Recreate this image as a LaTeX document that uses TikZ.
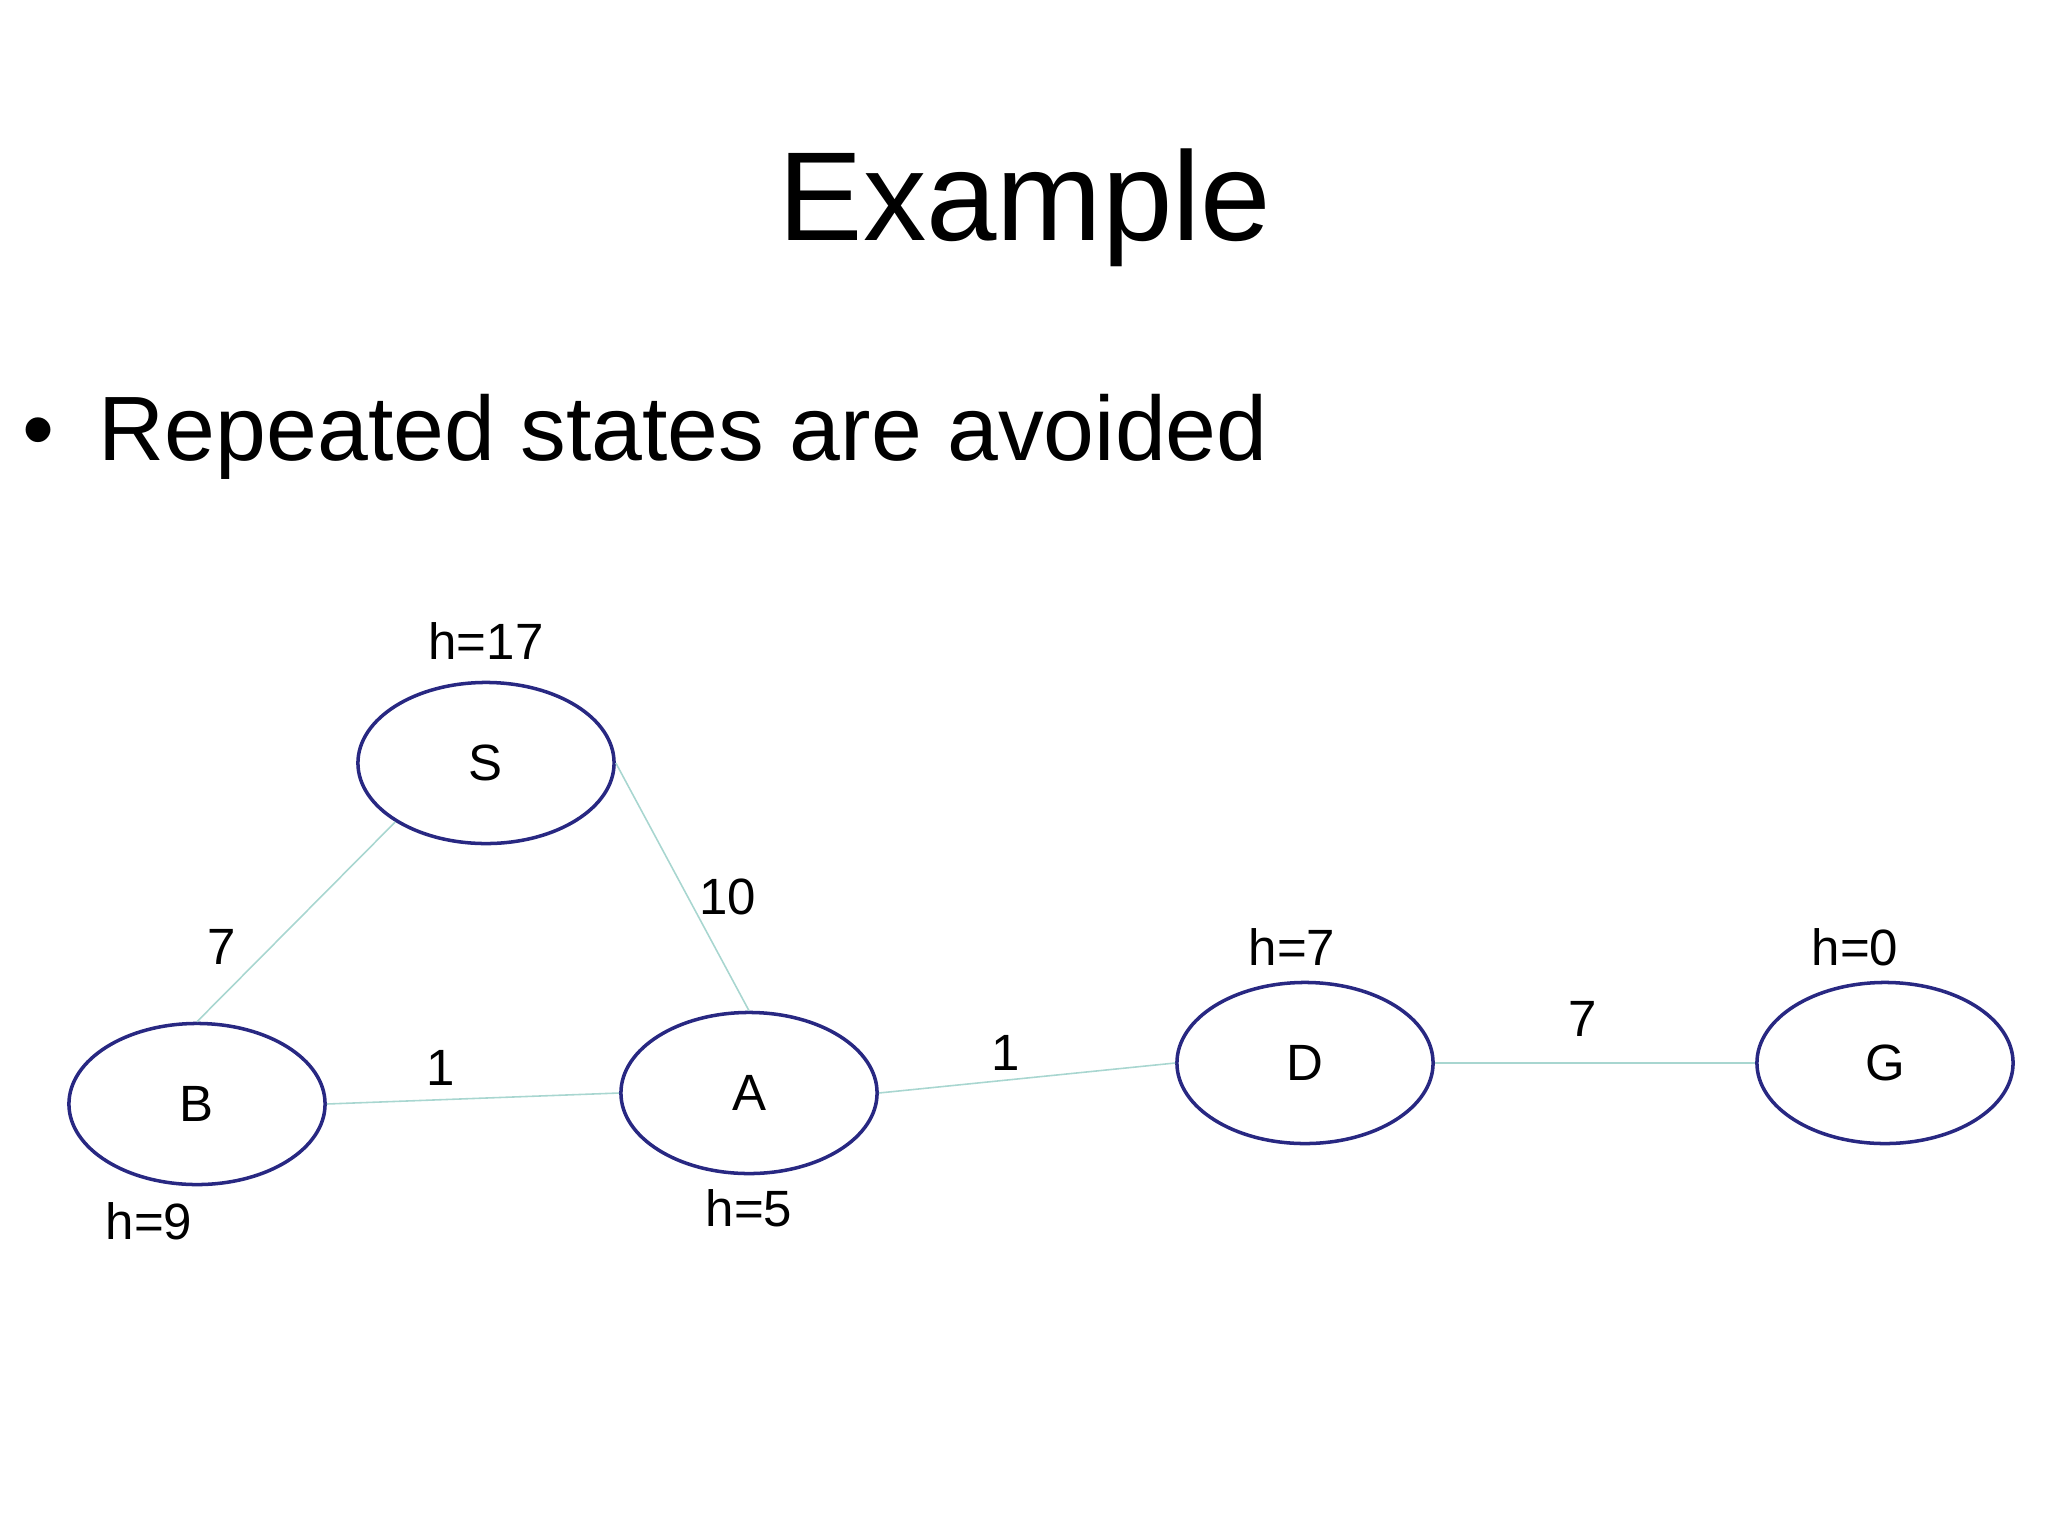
\documentclass[tikz,border=0pt]{standalone}
\usepackage{fontspec}
\setmainfont{Liberation Sans}
\usetikzlibrary{positioning,shapes.geometric}
\definecolor{navy}{RGB}{40,40,130}
\definecolor{edgeteal}{RGB}{168,214,208}

\begin{document}
\begin{tikzpicture}[x=0.01cm, y=-0.01cm,
        state/.style={ellipse, draw=navy, line width=1pt, minimum width=2.56cm, minimum height=1.61cm, inner sep=0pt, font=\fontsize{14.5}{17}\selectfont},
        lbl/.style={inner sep=0pt, font=\fontsize{14.5}{17}\selectfont},
        link/.style={draw=edgeteal, line width=0.45pt}]
                \useasboundingbox (0,0) rectangle (2048,1536);
                \node [anchor=base, inner sep=0pt, font=\fontsize{36}{43}\selectfont] (title) at (1025,240) {Example};
                \node [anchor=base west, inner sep=0pt, font=\fontsize{26}{31}\selectfont] (dot) at (22,460) {•};
                \node [anchor=base west, inner sep=0pt, font=\fontsize{26}{31}\selectfont] (point) at (98,460) {Repeated states are avoided};
                % graph
                \node [state] (S) at (486,763) {S};
                \node [state] (B) at (197,1104) {B};
                \node [state] (A) at (749,1093) {A};
                \node [state] (D) at (1305,1063) {D};
                \node [state] (G) at (1885,1063) {G};
                \node [lbl, above=0.2cm of S] (hS) {h=17};
                \node [lbl, below=0.14cm of A] (hA) {h=5};
                \node [lbl] (hB) at (149,1221) {h=9};
                \node [lbl] (hD) at (1292,947) {h=7};
                \node [lbl] (hG) at (1855,947) {h=0};
                \node [lbl] (wSB) at (222,947) {7};
                \node [lbl] (wSA) at (728,897) {10};
                \node [lbl] (wBA) at (441,1068) {1};
                \node [lbl] (wAD) at (1006,1053) {1};
                \node [lbl] (wDG) at (1583,1019) {7};
                \draw [link] (S.213) edge (B.north) (S.east) edge (A.north) (B.east) edge (A.west) (A.east) edge (D.west) (D.east) edge (G.west);
            \end{tikzpicture}
\end{document}
